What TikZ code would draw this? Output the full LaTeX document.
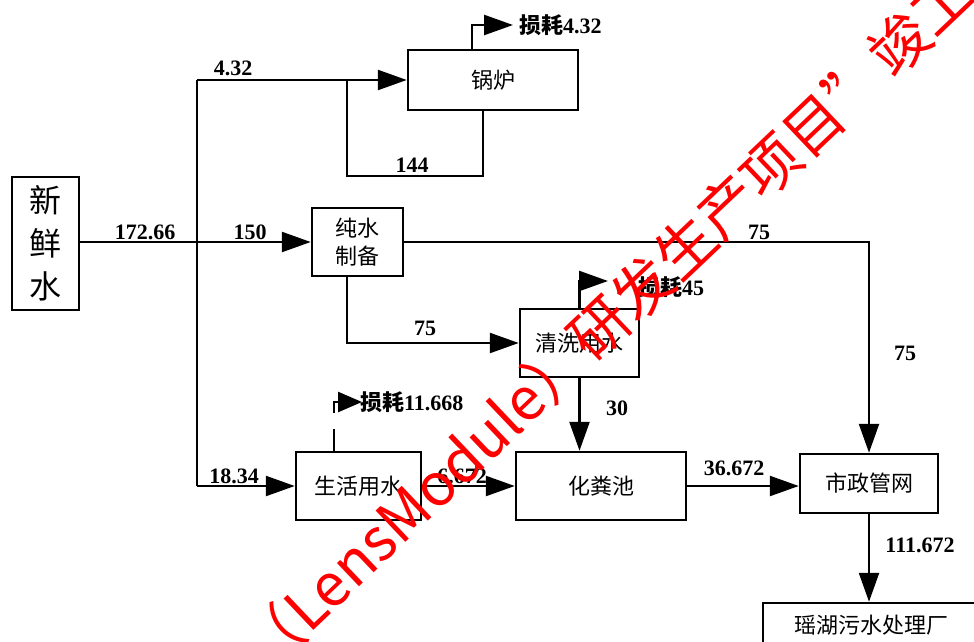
\documentclass[tikz,border=0pt]{standalone}
\usepackage{fontspec}
\setmainfont{Liberation Serif}
\newfontfamily\cjk{Noto Sans CJK SC}
\usetikzlibrary{arrows.meta}
\begin{document}
\begin{tikzpicture}[x=1pt,y=-1pt,
  box/.style={draw, line width=2.5pt, inner sep=0pt, font=\cjk\fontsize{22}{26}\selectfont},
  flow/.style={line width=2.5pt, -{Triangle[length=29pt,width=20pt]}},
  shortflow/.style={line width=2.5pt, -{Triangle[length=24pt,width=20pt]}},
  pipe/.style={line width=2.5pt},
  num/.style={font=\bfseries\fontsize{22}{22}\selectfont, inner sep=0pt},
  loss/.style={font=\bfseries\fontsize{22}{22}\selectfont, inner sep=0pt, anchor=west},
  wmark/.style={text=red, font=\cjk\fontsize{59}{59}\selectfont, inner sep=0pt},
]
\useasboundingbox (0,0) rectangle (974,642);
\clip (0,0) rectangle (974,642);
\fill[white] (0,0) rectangle (974,642);

% boxes
\node[box, minimum width=67pt, minimum height=133pt, align=center,
      font=\cjk\fontsize{32}{43}\selectfont] (fresh) at (45.5,243.5) {新\\鲜\\水};
\node[box, minimum width=170pt, minimum height=60pt] (boiler) at (493,80) {锅炉};
\node[box, minimum width=91pt, minimum height=68pt, align=center,
      font=\cjk\fontsize{22}{28}\selectfont] (pure) at (357.5,242) {纯水\\制备};
\node[box, minimum width=119pt, minimum height=68pt] (wash) at (579.5,343) {清洗用水};
\node[box, minimum width=125pt, minimum height=68pt] (life) at (358.5,486) {生活用水};
\node[box, minimum width=170pt, minimum height=68pt] (septic) at (601,486) {化粪池};
\node[box, minimum width=138pt, minimum height=59pt] (muni) at (869,483.5) {市政管网};
\node[box, minimum width=216pt, minimum height=50pt] (plant) at (871,628) {\raisebox{8pt}{瑶湖污水处理厂}};

% helper coordinates
\coordinate (Jt) at (197,80);
\coordinate (Jb) at (197,486);
\coordinate (L1) at (347,80);
\coordinate (L2) at (483,176);
\coordinate (B1) at (472,0);
\coordinate (B2) at (513,25);
\coordinate (P1) at (347,0);
\coordinate (W1) at (608,281);
\coordinate (S0) at (334,0);
\coordinate (S1) at (362,402);

% connectors
\draw[flow] (fresh.east |- pure.west) -- (pure.west);
\draw[pipe] (Jt) -- (Jb);
\draw[flow] (Jt) -- (boiler.west);
\draw[pipe] (L1) |- (L2) -- (L2 |- boiler.south);
\draw[flow] (boiler.north -| B1) |- (B2);
\draw[flow] (pure.east) -| (muni.north);
\draw[flow] (pure.south -| P1) |- (wash.west);
\draw[flow] (wash.north) |- (W1);
\draw[flow] (wash.south) -- (wash.south |- septic.north);
\draw[flow] (Jb) -- (life.west);
\draw[shortflow, dash pattern=on 22pt off 16pt] (life.north -| S0) |- (S1);
\draw[flow] (life.east) -- (septic.west);
\draw[flow] (septic.east) -- (septic.east -| muni.west);
\draw[flow] (muni.south) -- (muni.south |- plant.north);

% labels
\node[num] (n1) at (145,232) {172.66};
\node[num] (n2) at (250,232) {150};
\node[num] (n3) at (233,68) {4.32};
\node[num] (n4) at (412,165) {144};
\node[num] (n5) at (759,232) {75};
\node[num] (n6) at (905,353) {75};
\node[num] (n7) at (425,328) {75};
\node[num] (n8) at (617,408) {30};
\node[num] (n9) at (234,476) {18.34};
\node[num] (n10) at (462,476) {6.672};
\node[num] (n11) at (734,468) {36.672};
\node[num] (n12) at (920,545) {111.672};
\node[loss] (lb) at (519,25) {{\cjk 损耗}4.32};
\node[loss] (lw) at (638,287) {{\cjk 损耗}45};
\node[loss] (ll) at (360,402) {{\cjk 损耗}11.668};

% watermark
\node[wmark, rotate=43.5] (wm) at (607,321) {（LensModule）研发生产项目”竣工};
\end{tikzpicture}
\end{document}
